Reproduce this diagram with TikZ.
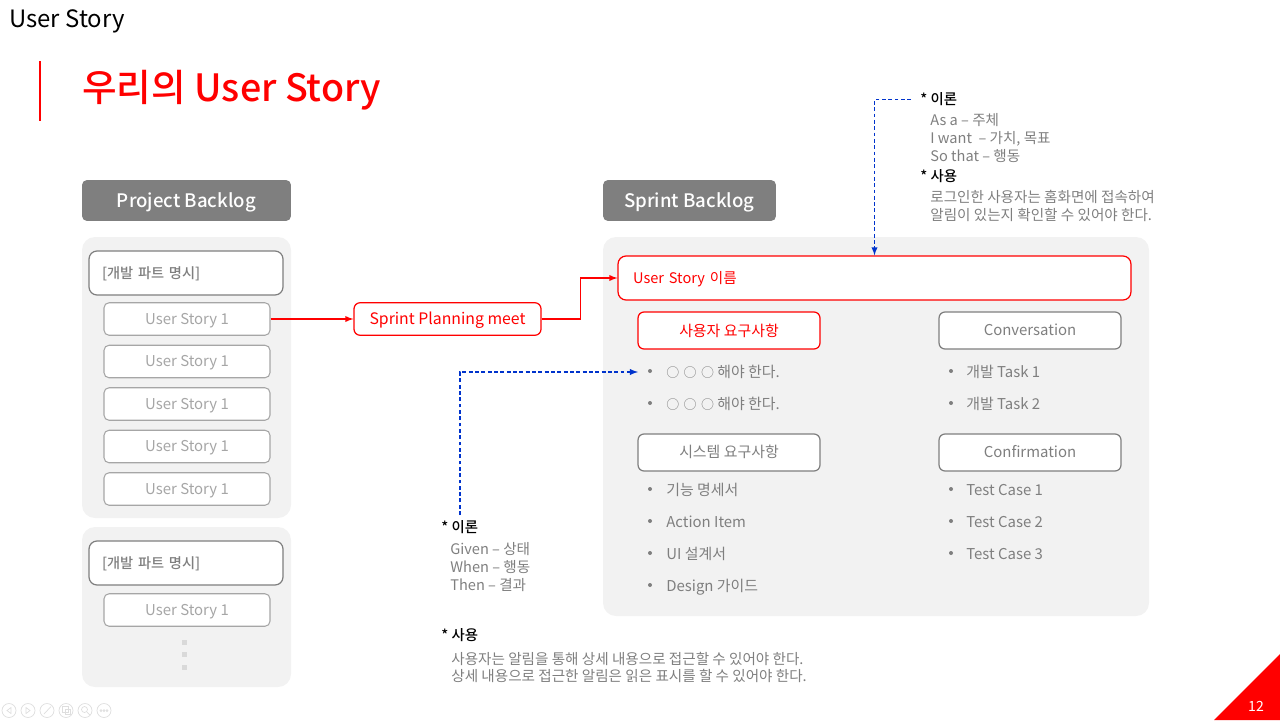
\documentclass[tikz,border=0pt]{standalone}
\usepackage{fontspec}
\setmainfont{Noto Sans CJK KR}
\newfontfamily\mediumfont{Noto Sans CJK KR Medium}
\definecolor{slidered}{HTML}{FF0000}
\definecolor{slidegrey}{HTML}{7F7F7F}
\definecolor{lightgrey}{HTML}{A6A6A6}
\definecolor{panelgrey}{HTML}{F2F2F2}
\definecolor{linkblue}{HTML}{0033CC}
\tikzset{
	panel/.style={fill=panelgrey, rounded corners=0.26cm},
	header/.style={fill=slidegrey, text=white, rounded corners=0.1cm, inner sep=0pt, minimum height=0.82cm, text height=9pt, text depth=1pt, font=\mediumfont\fontsize{10.6}{13}\selectfont},
	devbox/.style={draw=slidegrey, line width=0.7pt, fill=white, rounded corners=0.16cm, inner xsep=0.26cm, inner ysep=0pt, text width=3.36cm, align=left, minimum height=0.88cm, text height=7pt, text depth=1pt, text=slidegrey, font=\mediumfont\fontsize{8.1}{10}\selectfont},
	storybox/.style={draw=lightgrey, line width=0.6pt, fill=white, rounded corners=0.1cm, inner sep=0pt, minimum width=3.32cm, minimum height=0.65cm, text height=7pt, text depth=1pt, text=lightgrey, font=\fontsize{8.5}{10}\selectfont},
	redbox/.style={draw=slidered, line width=0.7pt, fill=white, rounded corners=0.12cm, inner sep=0pt, text height=7.5pt, text depth=1pt, text=slidered, font=\fontsize{9}{11}\selectfont},
	partbox/.style={draw=slidegrey, line width=0.7pt, fill=white, rounded corners=0.12cm, inner sep=0pt, minimum width=3.64cm, minimum height=0.74cm, text height=7pt, text depth=1pt, text=slidegrey, font=\fontsize{8.5}{10}\selectfont},
	item/.style={anchor=west, inner sep=0pt, text height=8pt, text depth=1pt, text=slidegrey, font=\fontsize{8.5}{10}\selectfont},
	mark dot/.style={fill=slidegrey, radius=0.04cm},
	note/.style={anchor=north west, inner sep=0pt, align=left, text=slidegrey, font=\fontsize{8.3}{10}\selectfont},
	notehead/.style={anchor=west, inner sep=0pt, text height=7pt, text depth=1pt, text=black, font=\mediumfont\fontsize{8.2}{10}\selectfont},
	navicon/.style={draw=black!13, line width=0.4pt},
	redlink/.style={->, >=latex, slidered, line width=0.6pt},
	bluelink/.style={->, >=latex, linkblue, line width=0.6pt, dash pattern=on 2.2pt off 1.4pt}
}
\begin{document}
\begin{tikzpicture}[x=0.02cm, y=-0.02cm]
	\useasboundingbox (0,0) rectangle (1280,720);
	% Titles
	\node[anchor=west, inner sep=0pt, text height=11pt, text depth=1pt, font=\fontsize{13.6}{16}\selectfont] (pagetitle) at (9,19) {User Story};
	\draw[slidered, line width=1.7pt] (40,61) -- (40,121);
	\node[anchor=west, inner sep=0pt, text height=17pt, text depth=1pt, text=slidered, font=\mediumfont\fontsize{21.4}{26}\selectfont] (slidetitle) at (82,87) {우리의 User Story};
	% Grey panels
	\fill[panel] (82,237) rectangle (291,518);
	\fill[panel] (82,527) rectangle (291,687);
	\fill[panel] (603,237) rectangle (1149,616);
	% Project backlog
	\node[header, minimum width=4.18cm] (project) at (186.5,200.5) {Project Backlog};
	\node[devbox] (devone) at (186,273) {[개발 파트 명시]};
	\node[storybox] (storya) at (187,319) {User Story 1};
	\node[storybox] (storyb) at (187,361.5) {User Story 1};
	\node[storybox] (storyc) at (187,404) {User Story 1};
	\node[storybox] (storyd) at (187,446.5) {User Story 1};
	\node[storybox] (storye) at (187,489) {User Story 1};
	\node[devbox] (devtwo) at (186,563) {[개발 파트 명시]};
	\node[storybox] (storyf) at (187,610) {User Story 1};
	\fill[black!15] (181.5,639.5) rectangle (186.5,644.5);
	\fill[black!15] (181.5,652) rectangle (186.5,657);
	\fill[black!15] (181.5,664.5) rectangle (186.5,669.5);
	% Planning
	\node[redbox, minimum width=3.74cm, minimum height=0.65cm] (planning) at (447.5,319) {Sprint Planning meet};
	% Sprint backlog
	\node[header, minimum width=3.46cm] (sprint) at (689.5,200.5) {Sprint Backlog};
	\node[redbox, minimum width=10.26cm, minimum height=0.88cm, rounded corners=0.16cm, text width=9.66cm, inner xsep=0.3cm, align=left, font=\fontsize{8.3}{10}\selectfont] (storyname) at (874.5,278) {User Story 이름};
	\node[redbox, minimum width=3.64cm, minimum height=0.74cm, font=\fontsize{8.5}{10}\selectfont] (userreq) at (729,330.5) {사용자 요구사항};
	\node[partbox] (conversation) at (1030,330.5) {Conversation};
	\node[partbox] (systemreq) at (729,452.5) {시스템 요구사항};
	\node[partbox] (confirmation) at (1030,452.5) {Confirmation};
	% Left column items
	\fill[mark dot] (650,371) circle;
	\node[item] (usera) at (666,371) {{\fontsize{7.4}{10}\selectfont ○\,\,○\,\,○} 해야 한다.};
	\fill[mark dot] (650,403) circle;
	\node[item] (userb) at (666,403) {{\fontsize{7.4}{10}\selectfont ○\,\,○\,\,○} 해야 한다.};
	\fill[mark dot] (650,489) circle;
	\node[item] (systema) at (666,489) {기능 명세서};
	\fill[mark dot] (650,521) circle;
	\node[item] (systemb) at (666,521) {Action Item};
	\fill[mark dot] (650,553) circle;
	\node[item] (systemc) at (666,553) {UI 설계서};
	\fill[mark dot] (650,585) circle;
	\node[item] (systemd) at (666,585) {Design 가이드};
	% Right column items
	\fill[mark dot] (951,371) circle;
	\node[item] (taska) at (966,371) {개발 Task 1};
	\fill[mark dot] (951,403) circle;
	\node[item] (taskb) at (966,403) {개발 Task 2};
	\fill[mark dot] (951,489) circle;
	\node[item] (casea) at (966,489) {Test Case 1};
	\fill[mark dot] (951,521) circle;
	\node[item] (caseb) at (966,521) {Test Case 2};
	\fill[mark dot] (951,553) circle;
	\node[item] (casec) at (966,553) {Test Case 3};
	% Notes at the top
	\node[notehead] (storytheory) at (920,99.5) {* 이론};
	\node[note] (storytheorytext) at (930,113.5) {As a – 주체\\I want~ – 가치, 목표\\So that – 행동};
	\node[notehead] (storyuse) at (920,176) {* 사용};
	\node[note] (storyusetext) at (930,190) {로그인한 사용자는 홈화면에 접속하여\\알림이 있는지 확인할 수 있어야 한다.};
	% Notes at the bottom
	\node[notehead] (reqtheory) at (441,527.5) {* 이론};
	\node[note] (reqtheorytext) at (450,542.5) {Given – 상태\\When – 행동\\Then – 결과};
	\node[notehead] (requse) at (441,635) {* 사용};
	\node[note] (requsetext) at (451,651.5) {사용자는 알림을 통해 상세 내용으로 접근할 수 있어야 한다.\\상세 내용으로 접근한 알림은 읽은 표시를 할 수 있어야 한다.};
	% Connectors
	\coordinate (reqfrom) at (460,515);
	\coordinate (reqto) at (638,372);
	\draw[redlink] (storya.east) -- (planning.west);
	\draw[redlink] (planning.east) -- ++(39,0) |- (storyname.west);
	\draw[bluelink] (storytheory.west) ++(-9,0) -| (storyname.north);
	\draw[bluelink] (reqfrom) |- (reqto);
	% Corner and page number
	\fill[slidered] (1214,720) -- (1280,654) -- (1280,720) -- cycle;
	\node[text=white, inner sep=0pt, font=\fontsize{8}{10}\selectfont] (pagenumber) at (1256,706) {12};
	% Slide show controls
	\draw[navicon] (9,710.5) circle (0.14cm);
	\draw[navicon] (11,707.5) -- (7,710.5) -- (11,713.5) -- cycle;
	\draw[navicon] (28,710.5) circle (0.14cm);
	\draw[navicon] (26,707.5) -- (30,710.5) -- (26,713.5) -- cycle;
	\draw[navicon] (47,710.5) circle (0.14cm);
	\draw[navicon] (44,714) -- (51,706.5);
	\draw[navicon] (66,710.5) circle (0.14cm);
	\draw[navicon] (62,706.5) rectangle (68,712);
	\draw[navicon] (65,709.5) rectangle (70,714);
	\draw[navicon] (85,710.5) circle (0.14cm);
	\draw[navicon] (84.5,709.5) circle (0.06cm);
	\draw[navicon] (87,712) -- (90,715);
	\draw[navicon] (104,710.5) circle (0.14cm);
	\draw[navicon] (101,710.5) circle (0.02cm);
	\draw[navicon] (104,710.5) circle (0.02cm);
	\draw[navicon] (107,710.5) circle (0.02cm);
\end{tikzpicture}
\end{document}
